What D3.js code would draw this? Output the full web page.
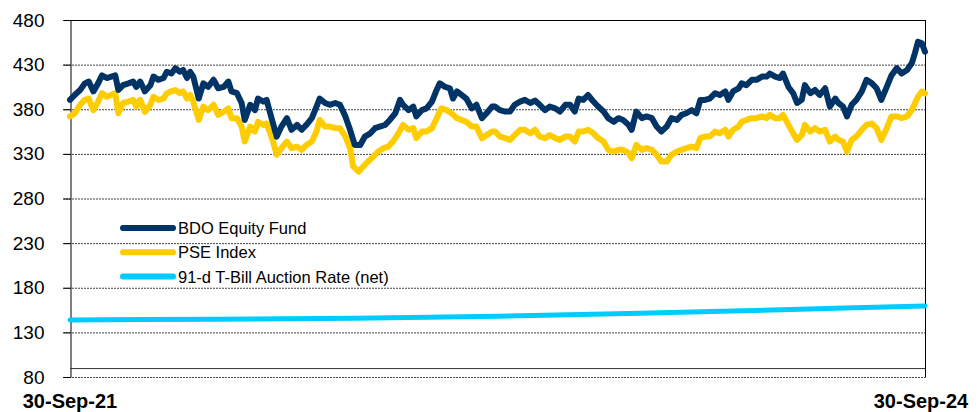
<!DOCTYPE html>
<html>
<head>
<meta charset="utf-8">
<script src="https://d3js.org/d3.v7.min.js"></script>
<style>
  body { margin: 0; background: #fff; }
  text { font-family: Arial, "Liberation Sans", sans-serif; fill: #000; }
</style>
</head>
<body>
<svg width="978" height="412"></svg>
<script>
// days since 30-Sep-21, value
const bdoDays = [0,6,13,19,24,30,36,41,47,53,58,62,68,75,81,85,90,96,103,107,113,120,124,130,135,141,145,150,154,158,165,171,177,184,190,197,203,207,214,220,224,231,237,241,248,252,259,265,271,278,284,291,297,303,310,316,320,327,333,340,346,353,359,365,372,378,385,391,397,404,410,417,423,427,434,440,444,451,457,464,470,474,481,487,491,496,502,508,515,521,528,534,541,545,551,558,564,570,577,583,590,596,602,609,615,622,628,635,641,647,652,658,664,671,677,684,690,697,703,709,716,720,726,733,739,746,752,758,765,771,778,784,790,797,803,808,814,820,827,833,840,844,850,857,861,867,874,880,887,893,897,904,910,914,921,927,932,938,942,949,955,961,968,974,981,985,991,996,1002,1008,1015,1021,1028,1034,1040,1047,1053,1060,1066,1073,1079,1083,1087,1092,1096];
const bdoValues = [390.5,396,401.6,409,411,400,409,418,415,416.6,418,401.6,407,409,411,405,411,400,407,416.6,413,415,422,420,426,422,424,415,422,416.6,392,409,405,413,403.5,405,411,400,398,387,368,385,379,392,388.6,390.5,368,349.4,360.6,370,357,362.5,357,362.5,370,383,392,387,385,387,385,372,357,340,340,349.4,353,358.8,360.6,362.5,368,375.5,390.5,385,379,383,372,379,381,388.6,401.6,409,405,403.5,392,400,396,392,381,385,370,375.5,383,383,379,377.4,377.4,385,388.6,390.5,387,389.7,385,379,383,381,377.4,385,385,377.4,392,390.5,396,388.6,383,377.4,370,366,370,368,362.5,357,377.4,370,372,370,360.6,355,360.6,370,368,373.7,375.5,379,375.5,390.5,390.5,392,398,396,400,390.5,400,403.5,409,407,413,413,416.6,416.6,420,416.6,415,420,405,398,387,390.5,407,398,401.6,396,403.5,383,392,387,383,372,385,390.5,400,413,409,403.5,390.5,405,418,426,420,424,431.5,442.7,455.7,454,444.5];

const pseDays = [0,6,13,19,24,30,36,41,47,53,58,62,68,75,81,85,90,96,103,107,113,120,124,130,135,141,145,150,154,158,165,171,177,184,190,197,203,207,214,220,224,231,237,241,248,252,259,265,271,278,284,291,297,303,310,316,320,327,333,340,346,353,359,363,370,376,382,389,395,402,408,414,421,427,434,440,444,451,457,464,470,476,483,489,496,502,508,515,521,528,534,541,545,551,558,564,570,577,583,590,596,602,609,615,622,628,635,641,647,652,658,664,671,677,684,690,697,703,709,716,720,726,733,739,746,752,758,765,771,778,784,790,797,803,808,814,820,827,833,840,844,850,857,861,867,874,880,887,893,897,904,910,914,921,927,932,938,942,949,955,961,968,974,981,985,991,996,1002,1008,1015,1021,1028,1034,1040,1047,1053,1060,1066,1073,1079,1083,1087,1092,1096];
const pseValues = [371.8,375.5,385,390.5,392,379,388.6,398,394,396,398,375.5,387,388.6,390.5,383,390.5,377,385,394,390.5,392,398,400,401.6,398,400,392,396,388.6,368,383,379,385,373.7,377,381,370,370,360.6,343.8,360.6,355,366,362.5,364,347.6,329,336.4,343.8,336.4,338,334.5,340,343.8,355,368,360.6,360.6,358.8,358.8,349.4,336.4,316,310,316,321.5,327,332.6,336.4,338,343.8,353,362.5,357,358.8,347.6,355,355,358.8,370,381,379,375.5,370,368,366,360.6,360.6,347.6,351,355,355,349.4,347.6,345.7,351,357,357,353,357,349.4,347.6,351,347.6,345.7,349.4,349.4,343.8,355,355,357,353,347.6,343.8,334.5,332.6,334.5,334.5,330.8,325.2,340,334.5,336.4,334.5,329,321.5,321.5,329,332.6,334.5,336.4,338,336.4,347.6,349.4,349.4,355,353,357,349.4,357,360.6,366,368,370,370,372,370,373.7,370,370,373.7,362.5,353,345.7,351,362.5,355,358.8,355,357,343.8,349.4,345.7,343.8,332.6,345.7,349.4,357,362.5,364,358.8,345.7,358.8,372,372,370,372,379,386.5,394,399.7,397.8];

const tbillDays = [0,91,183,274,365,457,548,639,731,822,913,1005,1096];
const tbillValues = [144.0,144.3,144.7,145.2,145.9,146.9,148.2,149.7,151.5,153.4,155.4,157.5,159.6];

const yTicks = [80,130,180,230,280,330,380,430,480];
const xTickDays = [0,1096];
const xTickLabels = ["30-Sep-21","30-Sep-24"];
const seriesNames = ["BDO Equity Fund","PSE Index","91-d T-Bill Auction Rate (net)"];
const seriesColors = ["#003366","#FFCC00","#00CCFF"];

const svg = d3.select("svg");
const plotLeft = 70, plotRight = 925, plotTop = 20, plotBottom = 377;

var x = d3.scaleLinear().domain([0,1096]).range([plotLeft,plotRight]);
var y = d3.scaleLinear().domain([80,480]).range([plotBottom,plotTop]);

// gridlines
svg.append("g").selectAll("line").data(yTicks.slice(0,-1)).enter().append("line")
  .attr("x1", plotLeft - 7).attr("x2", plotRight)
  .attr("y1", d => y(d) + 0.5).attr("y2", d => y(d) + 0.5)
  .attr("stroke", "#444").attr("stroke-width", 1).attr("stroke-dasharray", "2,1");

// y axis
var yAxis = svg.append("g").attr("transform", "translate(" + (plotLeft + 0.5) + ",0)")
  .call(d3.axisLeft(y).tickValues(yTicks).tickSize(7).tickPadding(19));
yAxis.select(".domain").attr("stroke", "#000");
yAxis.selectAll(".tick line").attr("stroke", "#000");
yAxis.selectAll("text").style("font-size", "19px").attr("fill", "#000")
  .style("font-family", "Arial, 'Liberation Sans', sans-serif");

// frame: top and right border, category axis line
svg.append("line").attr("x1", plotLeft).attr("x2", plotRight + 0.5).attr("y1", y(480) + 0.5).attr("y2", y(480) + 0.5)
  .attr("stroke", "#000");
svg.append("line").attr("x1", plotRight + 0.5).attr("x2", plotRight + 0.5).attr("y1", y(480)).attr("y2", y(80) + 0.5)
  .attr("stroke", "#000");
svg.append("line").attr("x1", plotLeft).attr("x2", plotRight).attr("y1", y(90) + 0.5).attr("y2", y(90) + 0.5)
  .attr("stroke", "#333");

// x labels
svg.append("g").selectAll("text").data(xTickDays).enter().append("text")
  .attr("x", d => x(d) - (d > 0 ? 4 : 0)).attr("y", 408)
  .attr("text-anchor", "middle").style("font-size", "20px").style("font-weight", "bold")
  .text((d,i) => xTickLabels[i]);

var line = d3.line().x(d => x(d[0])).y(d => y(d[1])).curve(d3.curveLinear);

var series = [
  { days: bdoDays, values: bdoValues, w: 6 },
  { days: pseDays, values: pseValues, w: 6 },
  { days: tbillDays, values: tbillValues, w: 5 }
];
// draw order: t-bill, pse, bdo
[2,1,0].forEach(function(i) {
  var s = series[i];
  var pts = s.days.map((d,j) => [d, s.values[j]]);
  svg.append("path").datum(pts)
    .attr("d", line)
    .attr("fill", "none")
    .attr("stroke", seriesColors[i])
    .attr("stroke-width", s.w)
    .attr("stroke-linejoin", "round")
    .attr("stroke-linecap", "round");
});

// legend
var legend = svg.append("g").attr("transform", "translate(121,228)");
seriesNames.forEach(function(name, i) {
  var g = legend.append("g").attr("transform", "translate(0," + (i * 24.3) + ")");
  g.append("line").attr("x1", 2).attr("x2", 52).attr("y1", 0).attr("y2", 0)
    .attr("stroke", seriesColors[i]).attr("stroke-width", 6).attr("stroke-linecap", "round");
  g.append("text").attr("x", 57).attr("y", 6).style("font-size", "16.5px").text(name);
});
</script>
</body>
</html>
